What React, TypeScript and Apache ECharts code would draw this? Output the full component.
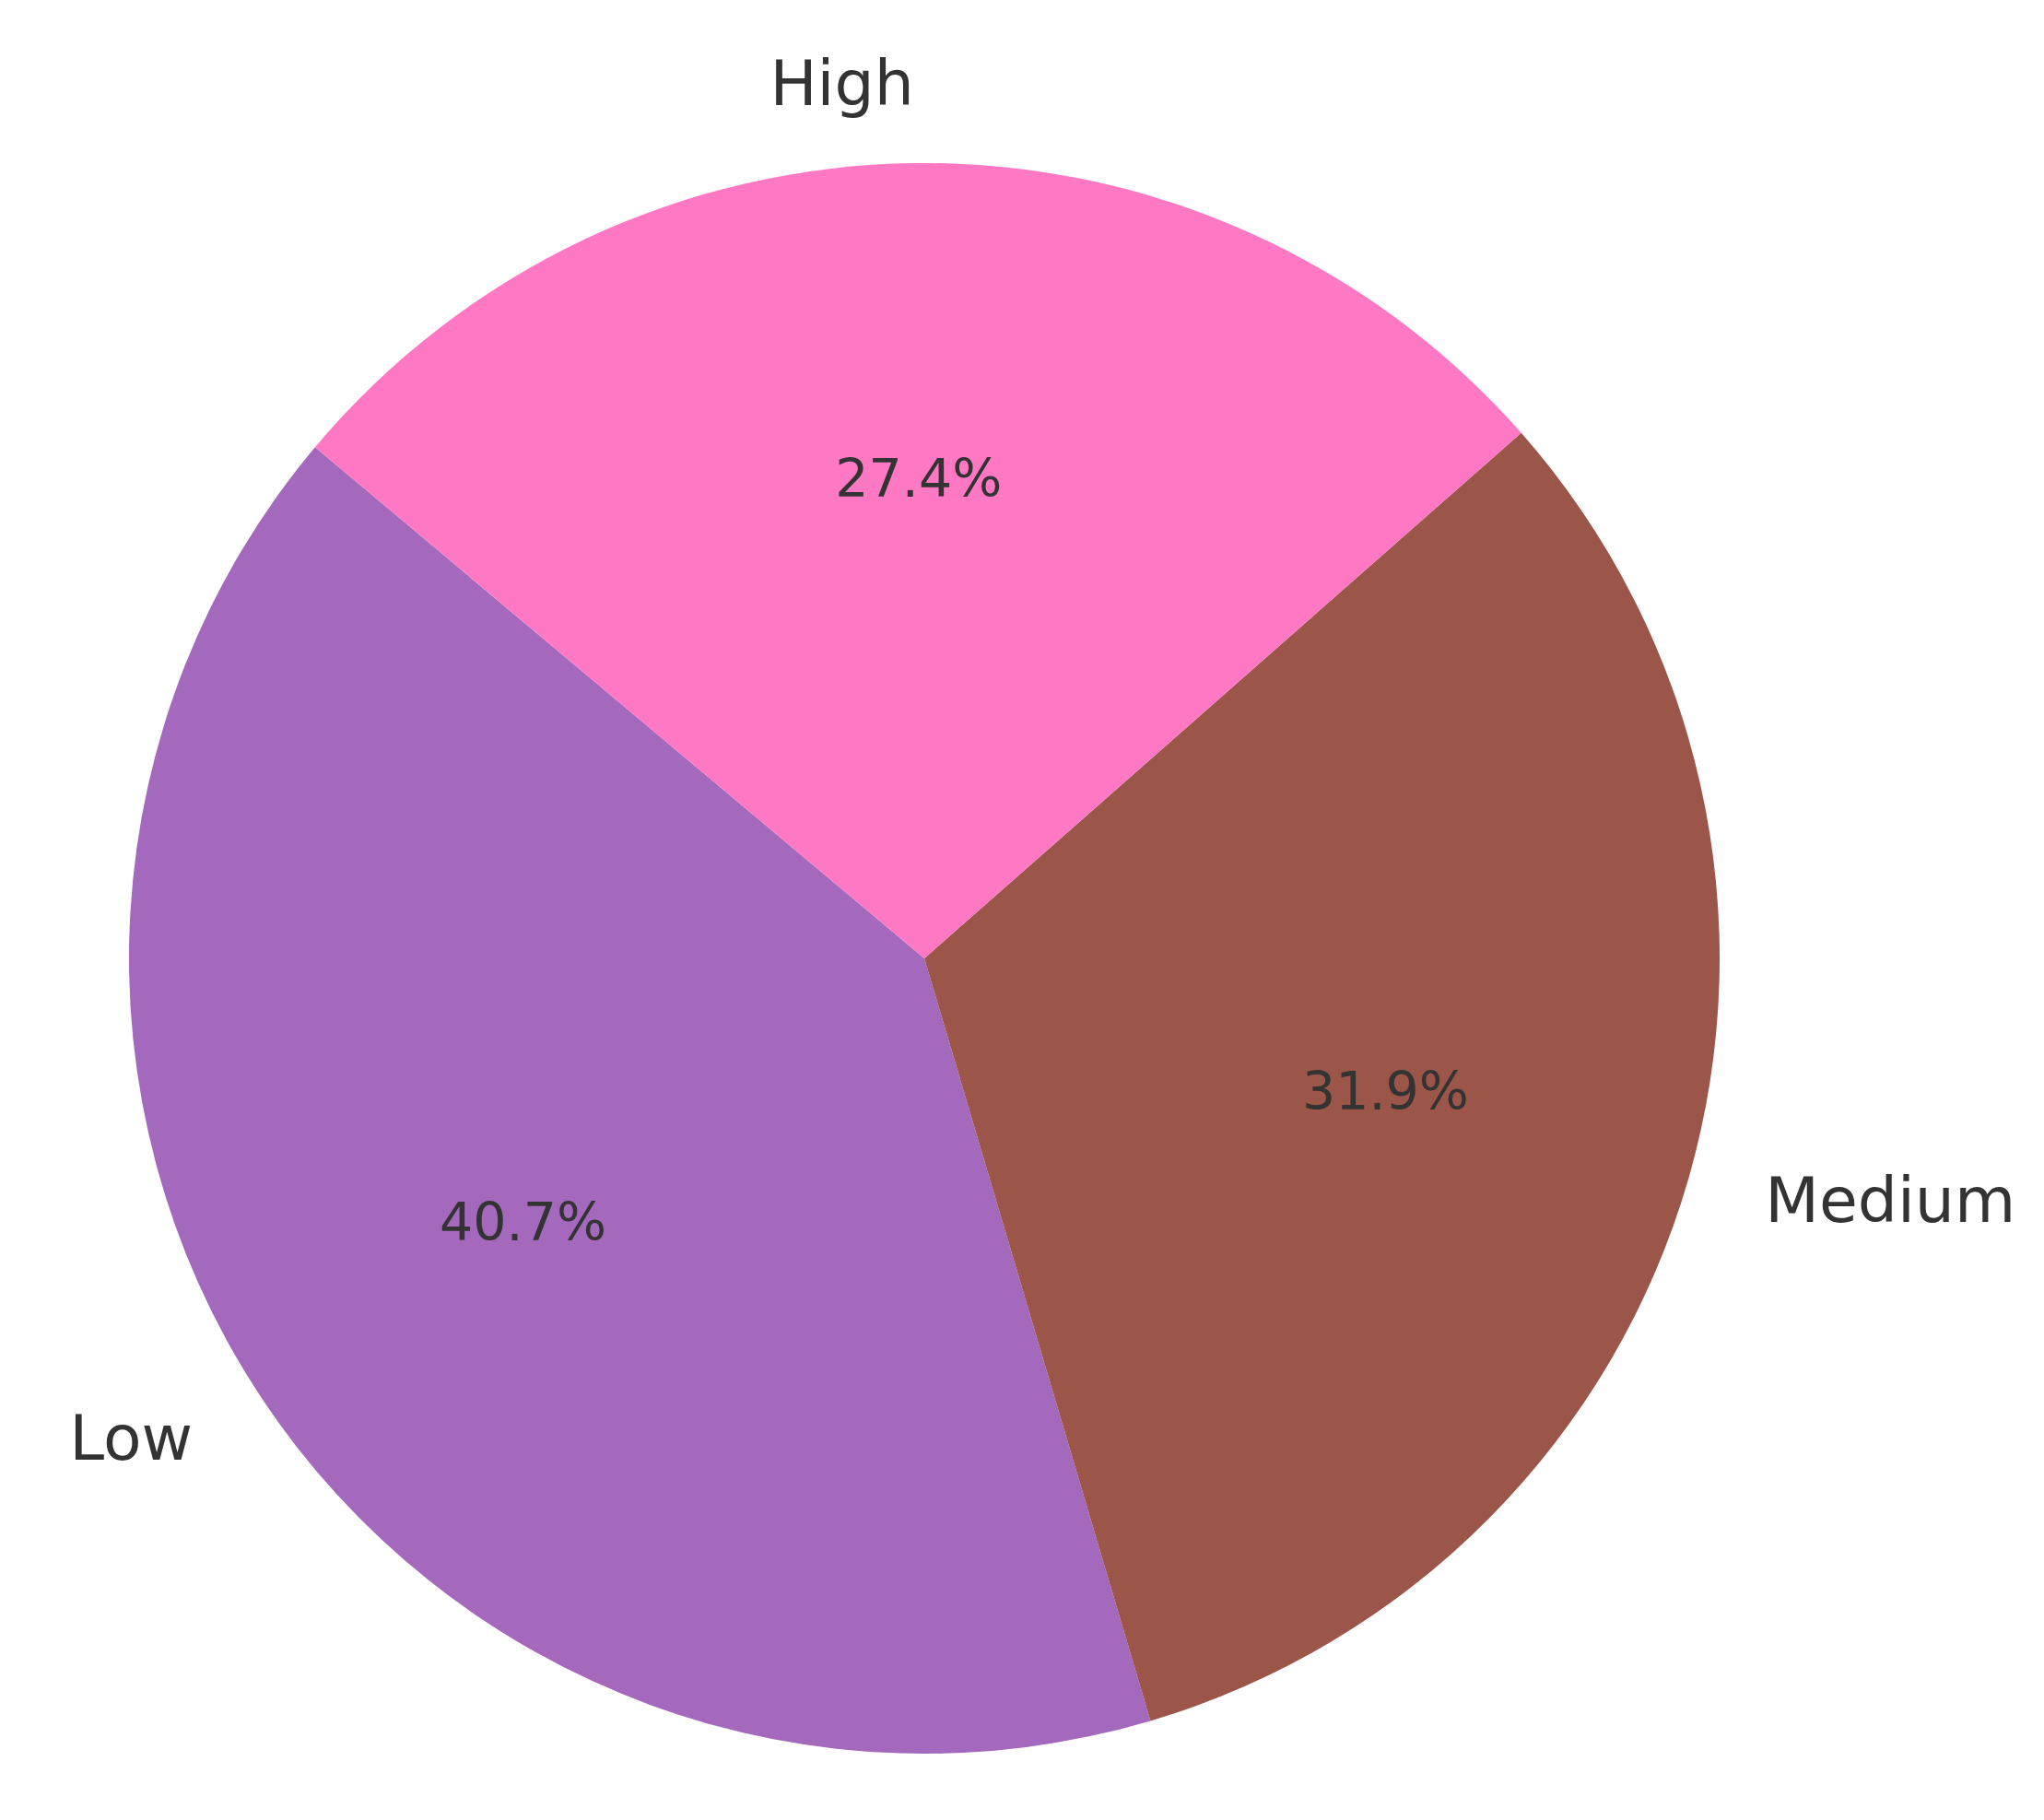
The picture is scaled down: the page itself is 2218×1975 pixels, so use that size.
import React, { useEffect, useRef } from 'react';
import * as echarts from 'echarts';

const categories = ['Low', 'Medium', 'High'];
const shares = [40.7, 31.9, 27.4];
const sliceColors = ['#a468bd', '#9c5649', '#ff78c4'];

const CX = 1003;
const CY = 1040;
const R = 863;

const App: React.FC = () => {
  const chartRef = useRef<HTMLDivElement>(null);

  useEffect(() => {
    if (!chartRef.current) return;
    const chart = echarts.init(chartRef.current, undefined, { renderer: 'svg' });

    const data = categories.map((name, i) => ({
      name,
      value: shares[i],
      itemStyle: { color: sliceColors[i] },
    }));

    const option: any = {
      animation: false,
      backgroundColor: '#ffffff',
      textStyle: { fontFamily: 'DejaVu Sans' },
      series: [
        {
          // the slices with their names outside, at 1.1 of the radius
          type: 'pie',
          center: [CX, CY],
          radius: [0, R],
          startAngle: 140,
          clockwise: false,
          avoidLabelOverlap: false,
          silent: true,
          emphasis: { disabled: true },
          itemStyle: { borderWidth: 0 },
          label: {
            show: true,
            position: 'outside',
            formatter: '{b}',
            fontSize: 68,
            color: '#333333',
            fontFamily: 'DejaVu Sans',
            distanceToLabelLine: 0,
          },
          labelLine: { show: false, length: R * 0.1, length2: 0 },
          data,
        },
        {
          // transparent copy, twice 0.6 of the radius, so its inside labels sit at 0.6 R
          type: 'pie',
          center: [CX, CY],
          radius: [0, R * 1.2],
          startAngle: 140,
          clockwise: false,
          silent: true,
          z: 3,
          emphasis: { disabled: true },
          itemStyle: { color: 'rgba(0,0,0,0)', borderWidth: 0 },
          label: {
            show: true,
            position: 'inside',
            formatter: (p: any) => `${p.value.toFixed(1)}%`,
            fontSize: 57,
            color: '#333333',
            fontFamily: 'DejaVu Sans',
          },
          labelLine: { show: false },
          data: categories.map((name, i) => ({ name, value: shares[i] })),
        },
      ],
    };

    chart.setOption(option);
    return () => {
      chart.dispose();
    };
  }, []);

  return (
    <div
      ref={chartRef}
      style={{ position: 'fixed', left: 0, top: 0, width: 2218, height: 1975 }}
    />
  );
};

export default App;
